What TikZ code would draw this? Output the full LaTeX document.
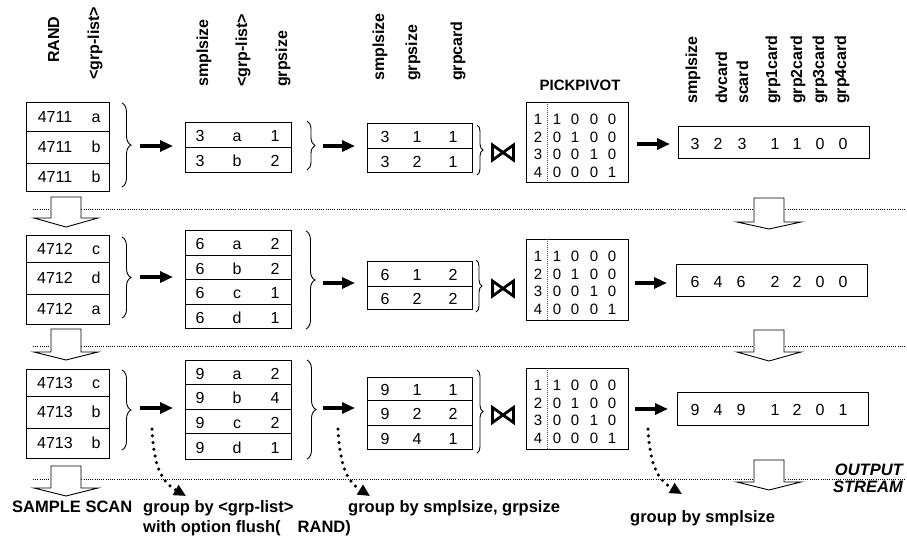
\documentclass[tikz,border=0pt]{standalone}
\usepackage{fontspec}
\setmainfont{Liberation Sans}
\usetikzlibrary{arrows.meta,decorations.pathreplacing,fit}
\newcommand\myfs[1]{\fontsize{#1}{#1}\selectfont}
% block arrow: name, centre x, top, shaft end, tip
\newcommand\blkarrow[5]{%
  \draw[blk] ({#2-15},#3) coordinate (#1) -- ({#2+15},#3) -- ({#2+15},#4) -- ({#2+32},#4) -- (#2,#5) -- ({#2-32},#4) -- ({#2-15},#4) -- cycle;}
% data table: name, xl, xr, x1, x2, x3, top, bottom, rows
\newcommand\mytable[9]{%
  \node[box, fit={(#2,#7) (#3,#8)}] (#1) {};
  \foreach \ya/\yb/\p/\q/\r [count=\i] in {#9}{
    \draw[rule] (#2,\yb) -- (#3,\yb);
    \node[cell] (#1-\i-a) at (#4,{(\ya+\yb)/2+1.5}) {\p};
    \node[cell] (#1-\i-b) at (#5,{(\ya+\yb)/2+1.5}) {\q};
    \node[cell] (#1-\i-c) at (#6,{(\ya+\yb)/2+1.5}) {\r};
  }}
% pick pivot matrix: name, top, bottom
\newcommand\mymatrix[3]{%
  \node[box, fit={(526,#2) (628,#3)}] (#1) {};
  \draw[mdiv] (547,#2) -- (547,#3);
  \foreach \rw/\a/\b/\c/\d [count=\i] in {1/1/0/0/0,2/0/1/0/0,3/0/0/1/0,4/0/0/0/1}{
    \node[mcell] (#1-\i-0) at (538,{#2+17.5*\i}) {\rw};
    \node[mcell] (#1-\i-1) at (557,{#2+17.5*\i}) {\a};
    \node[mcell] (#1-\i-2) at (575,{#2+17.5*\i}) {\b};
    \node[mcell] (#1-\i-3) at (594,{#2+17.5*\i}) {\c};
    \node[mcell] (#1-\i-4) at (612,{#2+17.5*\i}) {\d};
  }}
% output box: name, xl, top, xr, bottom, digits
\newcommand\myout[6]{%
  \node[box, fit={(#2,#3) (#4,#5)}] (#1) {};
  \foreach \x/\d [count=\i] in {#6}{
    \node[cell] (#1-\i) at (\x,{(#3+#5)/2+1.5}) {\d};
  }}
% bowtie: name, centre y
\newcommand\mybwt[2]{%
  \draw[bowtie] (492.5,{#2-7.5}) coordinate (#1) -- (513.5,{#2+7.5}) -- (513.5,{#2-7.5}) -- (492.5,{#2+7.5}) -- cycle;}
\begin{document}
\begin{tikzpicture}[x=1pt,y=-1pt,
  box/.style={draw, line width=1pt, inner sep=0pt},
  rule/.style={line width=1pt},
  mdiv/.style={line width=0.6pt, dash pattern=on 1pt off 1pt, black!70},
  cell/.style={font=\myfs{16}, inner sep=0pt, text height=11.5pt, text depth=0pt},
  mcell/.style={font=\myfs{15}, inner sep=0pt, text height=10.7pt, text depth=0pt},
  hdr/.style={font=\bfseries\myfs{16}, rotate=90, anchor=west, inner sep=0pt, text height=11.5pt, text depth=3.3pt},
  lbl/.style={font=\bfseries\myfs{16.5}, inner sep=0pt, anchor=base west},
  fat/.style={line width=3.2pt, -{Triangle[length=13pt,width=11pt]}},
  brc/.style={decorate, decoration={brace, amplitude=#1pt}, line width=0.9pt},
  brc/.default=9,
  sepline/.style={line width=0.9pt, dash pattern=on 1pt off 1.2pt, black},
  blk/.style={draw, fill=white, line width=0.9pt},
  dotarr/.style={line width=3.5pt, line cap=round, dash pattern=on 0pt off 6.8pt, -{Triangle[length=12pt,width=11pt]}},
  bowtie/.style={line width=2.8pt, line join=miter}
]
\useasboundingbox (0,0) rectangle (907,547);
\fill[white] (0,0) rectangle (907,547);

% separators
\foreach \y [count=\i] in {209,346,479}{
  \coordinate (S\i a) at (33,\y); \coordinate (S\i b) at (905,\y);
  \draw[sepline] (S\i a) -- (S\i b);
}

% block arrows
\blkarrow{LA1}{66}{197}{218}{227}
\blkarrow{LA2}{66}{329}{352}{360}
\blkarrow{LA3}{66}{466}{488}{496}
\blkarrow{RA1}{769}{198}{222}{229}
\blkarrow{RA2}{769}{330}{352}{361}
\blkarrow{RA3}{769}{460}{482}{490}

% headers
\node[hdr] (hRAND) at (55,63) {RAND};
\node[hdr] (hG1) at (95,80) {<grp-list>};
\node[hdr] (hS2) at (204,87) {smplsize};
\node[hdr] (hG2) at (243,87) {<grp-list>};
\node[hdr] (hZ2) at (283,87) {grpsize};
\node[hdr] (hS3) at (380,81) {smplsize};
\node[hdr] (hZ3) at (413,81) {grpsize};
\node[hdr] (hC3) at (458,81) {grpcard};
\node[font=\bfseries\myfs{15}, anchor=base, inner sep=0pt] (hPP) at (580,90) {PICKPIVOT};
\foreach \x/\t [count=\i] in {693/smplsize,723/dvcard,744/scard,773/grp1card,798/grp2card,820/grp3card,842/grp4card}
  \node[hdr] (hO\i) at (\x,104) {\t};

% RAND boxes
\foreach \n/\t/\da/\db/\b/\num/\la/\lb/\lc in {1/102/131/163/191/4711/a/b/b,2/235/262/294/324/4712/c/d/a,3/369/396/428/458/4713/c/b/b}{
  \node[box, fit={(26,\t) (109,\b)}] (R\n) {};
  \draw[rule] (26,\da) -- (109,\da) (26,\db) -- (109,\db);
  \node[cell] (R\n-1-a) at (55,{(\t+\da)/2}) {\num};
  \node[cell] (R\n-1-b) at (96,{(\t+\da)/2}) {\la};
  \node[cell] (R\n-2-a) at (55,{(\da+\db)/2}) {\num};
  \node[cell] (R\n-2-b) at (96,{(\da+\db)/2}) {\lb};
  \node[cell] (R\n-3-a) at (55,{(\db+\b)/2}) {\num};
  \node[cell] (R\n-3-b) at (96,{(\db+\b)/2}) {\lc};
}

% group-by tables
\mytable{T21}{185}{291}{200}{237}{275}{122}{172}{122/147/3/a/1,147/172/3/b/2}
\mytable{T22}{185}{291}{200}{237}{275}{230}{328}{230/255/6/a/2,255/279/6/b/2,279/304/6/c/1,304/328/6/d/1}
\mytable{T23}{185}{291}{200}{237}{275}{360}{459}{360/384/9/a/2,384/409/9/b/4,409/433/9/c/2,433/459/9/d/1}
\mytable{T31}{367}{472}{385}{417}{453}{123}{172}{123/148/3/1/1,148/172/3/2/1}
\mytable{T32}{367}{472}{385}{417}{453}{261}{309}{261/286/6/1/2,286/309/6/2/2}
\mytable{T33}{367}{472}{385}{417}{453}{377}{449}{377/400/9/1/1,400/425/9/2/2,425/449/9/4/1}

% braces
\foreach \x/\ya/\yb/\am in {122/103/187/9, 307/121/170/8, 477/125/175/6, 122/237/318/9, 306/231/329/9, 476/260/312/6, 122/370/450/9, 307/360/459/9, 477/370/453/6}
  \draw[brc=\am] (\x,\ya) -- (\x,\yb);

% bowties
\mybwt{J1}{152.5}
\mybwt{J2}{288.5}
\mybwt{J3}{415}

% pick pivot matrices
\mymatrix{P1}{102}{182}
\mymatrix{P2}{239}{320}
\mymatrix{P3}{368}{449}

% output rows
\myout{O1}{678}{126}{869}{158}{695/3,718/2,742/3,775/1,797/1,820/0,843/0}
\myout{O2}{676}{264}{867}{296}{695/6,718/4,741/6,775/2,797/2,820/0,843/0}
\myout{O3}{677}{392}{868}{425}{695/9,718/4,741/9,775/1,797/2,820/0,843/1}

% fat arrows
\foreach \xa/\xb/\y [count=\i] in {140/173/146, 323/355/146, 637/670/144, 140/173/277, 323/355/283, 635/667/283, 140/173/408, 323/355/408, 635/668/409}{
  \coordinate (F\i s) at (\xa,\y); \coordinate (F\i e) at (\xb,\y);
  \draw[fat] (F\i s) -- (F\i e);
}

% dotted curved arrows
\coordinate (D1s) at (152,429); \coordinate (D1e) at (186,496);
\coordinate (D2s) at (338,429); \coordinate (D2e) at (370,496);
\coordinate (D3s) at (648,429); \coordinate (D3e) at (682,494);
\draw[dotarr] (D1s) .. controls (154,468) and (162,482) .. (D1e);
\draw[dotarr] (D2s) .. controls (340,468) and (348,482) .. (D2e);
\draw[dotarr] (D3s) .. controls (650,466) and (658,480) .. (D3e);

% bottom labels
\node[lbl] (Lscan) at (12,512) {SAMPLE SCAN};
\node[lbl] (Lg1a) at (143,512) {group by <grp-list>};
\node[lbl] (Lg1b) at (143,532) {with option flush(\hspace*{17pt}RAND)};
\node[lbl] (Lg2) at (348,512) {group by smplsize, grpsize};
\node[lbl] (Lg3) at (630,522) {group by smplsize};
\node[font=\bfseries\itshape\myfs{16.5}, inner sep=0pt, anchor=base east] (Lout1) at (903,475) {OUTPUT};
\node[font=\bfseries\itshape\myfs{16.5}, inner sep=0pt, anchor=base east] (Lout2) at (903,492) {STREAM};
\end{tikzpicture}
\end{document}
